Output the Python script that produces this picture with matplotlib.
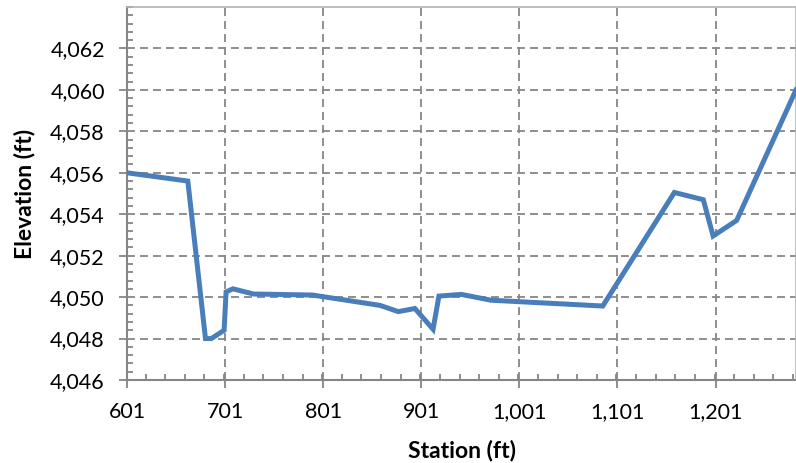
import matplotlib
matplotlib.use("Agg")
import matplotlib.pyplot as plt
from matplotlib.ticker import MultipleLocator, FuncFormatter, FixedLocator

station = [601, 663, 681, 687, 700, 702, 709, 730, 790, 859, 877.5, 894.5,
           913, 919, 942, 972, 1086, 1159, 1188.5, 1198.5, 1222.5, 1283]
elev = [4056.0, 4055.6, 4048.0, 4048.0, 4048.4, 4050.25, 4050.4, 4050.15,
        4050.1, 4049.6, 4049.3, 4049.45, 4048.45, 4050.05, 4050.13, 4049.85,
        4049.57, 4055.05, 4054.7, 4052.95, 4053.7, 4060.0]
x_ticks = [601, 701, 801, 901, 1001, 1101, 1201]
y_ticks = [4046, 4048, 4050, 4052, 4054, 4056, 4058, 4060, 4062]

plt.rcParams['font.family'] = ['Lato', 'DejaVu Sans']

fig = plt.figure(figsize=(7.96, 4.63), dpi=100)
ax = fig.add_axes([127/796, 1-380/463, 1-127/796, (380-7)/463])

grid_c = '#868686'
ax.plot(station, elev, color='#4a7ebb', lw=3.6, solid_joinstyle='miter', zorder=3)

ax.set_xlim(601, 1283)
ax.set_ylim(4046, 4064)
ax.xaxis.set_major_locator(FixedLocator(x_ticks))
ax.yaxis.set_major_locator(FixedLocator(y_ticks))
ax.xaxis.set_minor_locator(MultipleLocator(20))
ax.yaxis.set_minor_locator(MultipleLocator(0.4))
fmt = FuncFormatter(lambda v, p: f'{v:,.0f}')
ax.xaxis.set_major_formatter(fmt)
ax.yaxis.set_major_formatter(fmt)

ax.grid(True, which='major', color=grid_c, linestyle=(0, (4.4, 2.8)), lw=1.3)
ax.tick_params(which='major', direction='out', length=6, width=1.3, color=grid_c,
               labelsize=15.5, pad=10, labelcolor='black')
ax.tick_params(which='minor', direction='in', length=4.5, width=1.3, color=grid_c)

for s in ['left', 'bottom']:
    ax.spines[s].set_color(grid_c)
    ax.spines[s].set_linewidth(1.5)
for s in ['top', 'right']:
    ax.spines[s].set_color('#b4b4b4')
    ax.spines[s].set_linewidth(1.2)

ax.set_xlabel('Station (ft)', fontsize=16.5, fontweight='bold')
ax.set_ylabel('Elevation (ft)', fontsize=16.5, fontweight='bold')
ax.xaxis.set_label_coords(0.5, -(440-380)/373)
ax.yaxis.set_label_coords(-(127-35)/669, 0.5)

fig.savefig('out.png', dpi=100)
